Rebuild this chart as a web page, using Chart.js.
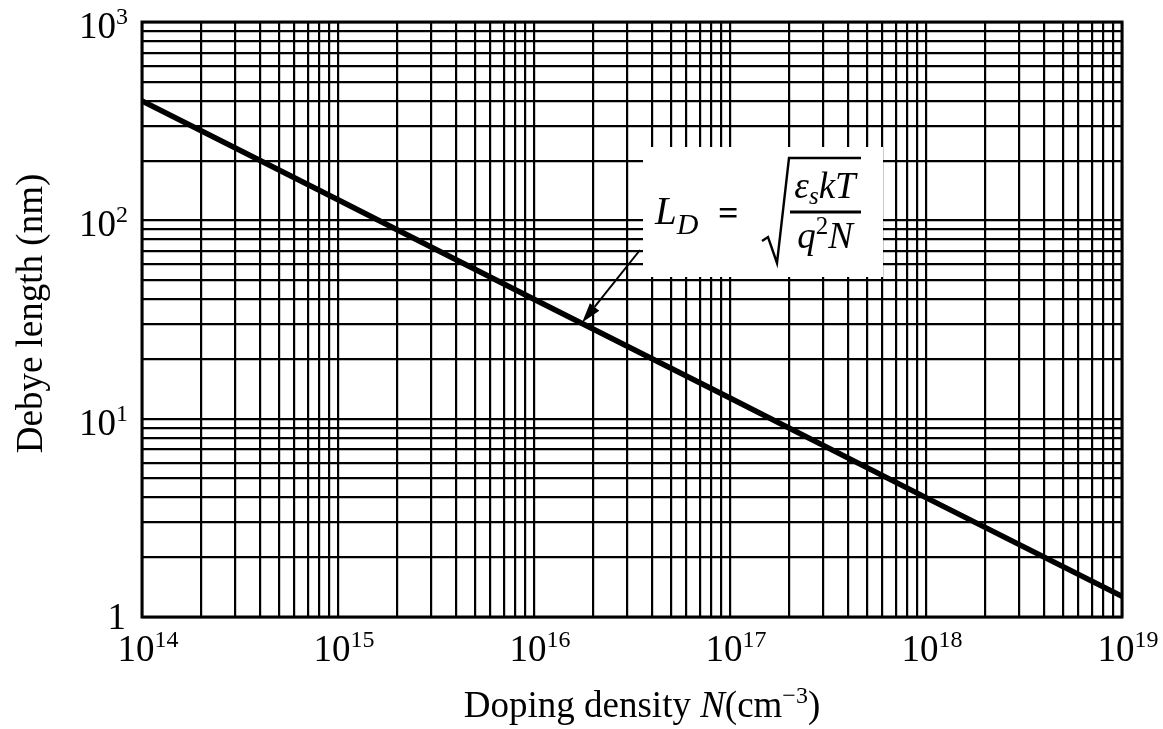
<!DOCTYPE html>
<html>
<head>
<meta charset="utf-8">
<script src="https://cdn.jsdelivr.net/npm/chart.js@4.4.1/dist/chart.umd.min.js"></script>
<style>
    html, body { margin: 0; padding: 0; background: #fff; }
    #wrap { width: 1163px; height: 729px; position: relative; }
</style>
</head>
<body>
<div id="wrap"><canvas id="debyeChart"></canvas></div>
<script>
// ===== Data =====
const dopingN = [1e14, 1e15, 1e16, 1e17, 1e18, 1e19];     // cm^-3
const debyeNm = [400, 127, 40, 12.7, 4.0, 1.27];           // nm

// decade exponents used for tick labels
const xDecades = [14, 15, 16, 17, 18, 19];
const yDecades = [0, 1, 2, 3];
// grid lines inside each decade (log paper)
const minorSteps = [1, 2, 3, 4, 5, 6, 7, 8, 9];

// arrow of the formula callout points at this spot on the curve
const arrowTip = { n: 1.76e16, l: 30.5 };

const serif = '"Liberation Serif", "Times New Roman", serif';

function gridValues(decades) {
    const vals = [];
    decades.forEach((p, i) => {
        if (i === decades.length - 1) { vals.push(Math.pow(10, p)); return; }
        minorSteps.forEach(m => vals.push(m * Math.pow(10, p)));
    });
    return vals;
}

// "10" with a raised exponent
function drawPow(ctx, exp, x, y, align) {
    ctx.font = '37px ' + serif;
    const wb = ctx.measureText('10').width;
    ctx.font = '24px ' + serif;
    const we = ctx.measureText(exp).width;
    const total = wb + we;
    const left = align === 'right' ? x - total : x - total / 2;
    ctx.textAlign = 'left';
    ctx.font = '37px ' + serif;
    ctx.fillText('10', left, y);
    ctx.font = '24px ' + serif;
    ctx.fillText(exp, left + wb, y - 14);
}

// draw a run of [text, font, dy] pieces from x
function drawRun(ctx, pieces, x, y) {
    pieces.forEach(([txt, font, dy]) => {
        ctx.font = font;
        ctx.fillText(txt, x, y + (dy || 0));
        x += ctx.measureText(txt).width;
    });
    return x;
}

function runWidth(ctx, pieces) {
    let w = 0;
    pieces.forEach(([txt, font]) => { ctx.font = font; w += ctx.measureText(txt).width; });
    return w;
}

// ===== Formula box + arrow (drawn over the grid, under the curve) =====
const calloutPlugin = {
    id: 'callout',
    beforeDatasetsDraw(chart) {
        const ctx = chart.ctx;
        const xs = chart.scales.x, ys = chart.scales.y;
        ctx.save();
        ctx.fillStyle = '#fff';
        ctx.fillRect(643, 147, 240, 130);

        ctx.fillStyle = '#000';
        ctx.strokeStyle = '#000';
        ctx.textBaseline = 'alphabetic';
        ctx.textAlign = 'left';

        // L_D =
        const it = 'italic 39px ' + serif;
        const itSmall = 'italic 30px ' + serif;
        drawRun(ctx, [['L', it], ['D', itSmall, 10]], 655, 224);
        ctx.font = 'bold 36px ' + serif;
        ctx.fillText('=', 718, 225);

        // radical sign
        ctx.lineWidth = 2.4;
        ctx.lineJoin = 'miter';
        ctx.beginPath();
        ctx.moveTo(762, 241);
        ctx.lineTo(768, 237);
        ctx.lineTo(777, 263);
        ctx.lineTo(789, 158);
        ctx.lineTo(861, 158);
        ctx.stroke();

        // numerator / bar / denominator
        const num = [['ε', 'italic 37px ' + serif], ['s', 'italic 25px ' + serif, 6], ['kT', 'italic 37px ' + serif]];
        const den = [['q', 'italic 37px ' + serif], ['2', '25px ' + serif, -14], ['N', 'italic 37px ' + serif]];
        const cx = 825;
        drawRun(ctx, num, cx - runWidth(ctx, num) / 2, 198);
        drawRun(ctx, den, cx - runWidth(ctx, den) / 2, 248);
        ctx.lineWidth = 3;
        ctx.beginPath();
        ctx.moveTo(790, 212);
        ctx.lineTo(861, 212);
        ctx.stroke();

        // arrow to the curve
        const tx = xs.getPixelForValue(arrowTip.n);
        const ty = ys.getPixelForValue(arrowTip.l);
        const sx = 640, sy = 250;
        const ang = Math.atan2(ty - sy, tx - sx);
        const hl = 20, hw = 6;
        const bx = tx - hl * Math.cos(ang), by = ty - hl * Math.sin(ang);
        ctx.lineWidth = 2;
        ctx.beginPath();
        ctx.moveTo(sx, sy);
        ctx.lineTo(bx, by);
        ctx.stroke();
        ctx.beginPath();
        ctx.moveTo(tx, ty);
        ctx.lineTo(bx + hw * Math.sin(ang), by - hw * Math.cos(ang));
        ctx.lineTo(bx - hw * Math.sin(ang), by + hw * Math.cos(ang));
        ctx.closePath();
        ctx.fill();
        ctx.restore();
    }
};

// ===== Frame, tick labels and axis titles =====
const labelPlugin = {
    id: 'labels',
    afterDraw(chart) {
        const ctx = chart.ctx;
        const xs = chart.scales.x, ys = chart.scales.y;
        const a = chart.chartArea;
        ctx.save();
        ctx.strokeStyle = '#000';
        ctx.lineWidth = 3;
        ctx.strokeRect(a.left, a.top, a.right - a.left, a.bottom - a.top);

        ctx.fillStyle = '#000';
        ctx.textBaseline = 'alphabetic';

        yDecades.forEach(p => {
            const y = ys.getPixelForValue(Math.pow(10, p));
            if (p === 0) {
                ctx.font = '37px ' + serif;
                ctx.textAlign = 'right';
                ctx.fillText('1', a.left - 16, y + 12);
            } else {
                drawPow(ctx, String(p), a.left - 14, y + 16, 'right');
            }
        });

        xDecades.forEach(p => {
            const x = xs.getPixelForValue(Math.pow(10, p));
            drawPow(ctx, String(p), x + 6, a.bottom + 44, 'center');
        });

        // x title
        ctx.textAlign = 'left';
        const title = [
            ['Doping density ', '37px ' + serif],
            ['N', 'italic 37px ' + serif],
            ['(cm', '37px ' + serif],
            ['\u22123', '24px ' + serif, -14],
            [')', '37px ' + serif]
        ];
        const tw = runWidth(ctx, title);
        drawRun(ctx, title, (a.left + a.right) / 2 - tw / 2 + 10, 717);

        // y title
        ctx.translate(42, (a.top + a.bottom) / 2 - 6);
        ctx.rotate(-Math.PI / 2);
        ctx.textAlign = 'center';
        ctx.font = '37px ' + serif;
        ctx.fillText('Debye length (nm)', 0, 0);
        ctx.restore();
    }
};

document.addEventListener('DOMContentLoaded', () => {
    const ctx = document.getElementById('debyeChart');
    const xGrid = gridValues(xDecades);
    const yGrid = gridValues(yDecades);

    new Chart(ctx, {
        type: 'line',
        data: {
            datasets: [{
                label: 'Debye length',
                data: dopingN.map((n, i) => ({ x: n, y: debyeNm[i] })),
                borderColor: '#000',
                borderWidth: 5.5,
                pointRadius: 0,
                tension: 0,
                fill: false
            }]
        },
        options: {
            responsive: true,
            maintainAspectRatio: false,
            animation: false,
            layout: { padding: { left: 142, right: 41, top: 22, bottom: 112 } },
            plugins: {
                legend: { display: false },
                tooltip: { enabled: false }
            },
            scales: {
                x: {
                    type: 'logarithmic',
                    min: 1e14,
                    max: 1e19,
                    afterBuildTicks: (scale) => { scale.ticks = xGrid.map(v => ({ value: v })); },
                    ticks: { display: false },
                    grid: { color: '#000', lineWidth: 2.2, drawTicks: false },
                    border: { display: false }
                },
                y: {
                    type: 'logarithmic',
                    min: 1,
                    max: 1000,
                    afterBuildTicks: (scale) => { scale.ticks = yGrid.map(v => ({ value: v })); },
                    ticks: { display: false },
                    grid: { color: '#000', lineWidth: 2.2, drawTicks: false },
                    border: { display: false }
                }
            }
        },
        plugins: [calloutPlugin, labelPlugin]
    });
});
</script>
</body>
</html>
